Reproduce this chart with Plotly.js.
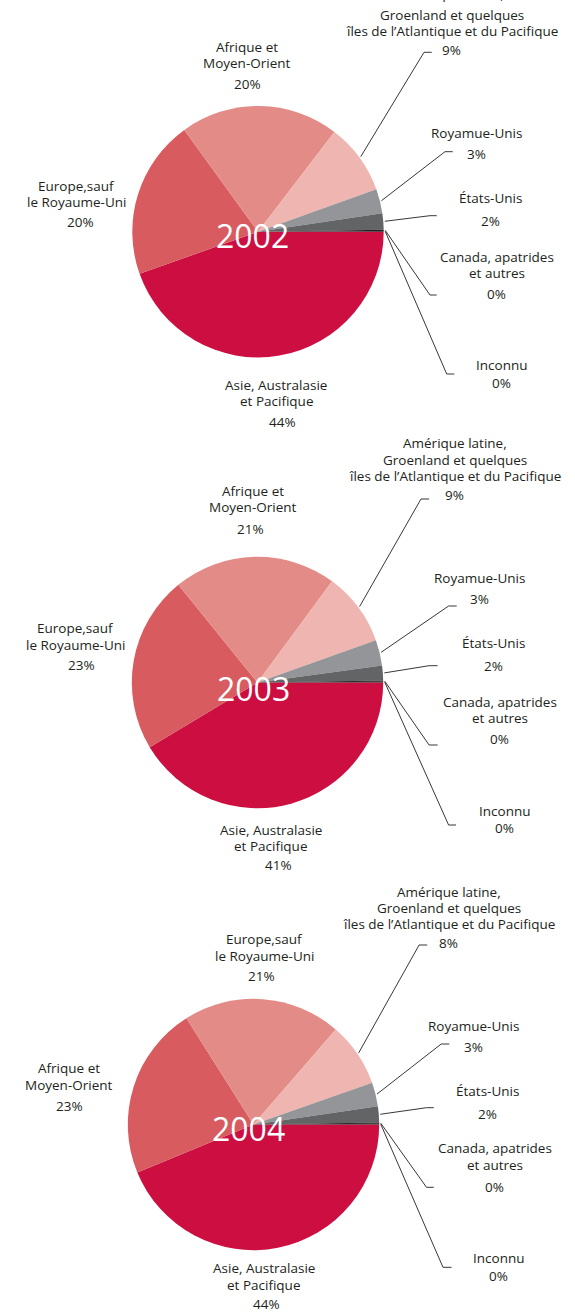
<!DOCTYPE html>
<html>
<head>
<meta charset="utf-8">
<script src="https://cdn.plot.ly/plotly-3.0.1.min.js"></script>
<style>
html,body{margin:0;padding:0;background:#ffffff;}
#chart{width:575px;height:1312px;}
</style>
</head>
<body>
<div id="chart"></div>
<script>
// ---------------- DATA ----------------
const categories = [
  "Asie, Australasie\net Pacifique",
  "Europe,sauf\nle Royaume-Uni",
  "Afrique et\nMoyen-Orient",
  "Amérique latine,\nGroenland et quelques\nîles de l’Atlantique et du Pacifique",
  "Royamue-Unis",
  "États-Unis",
  "Canada, apatrides\net autres",
  "Inconnu"
];
const years = ["2002", "2003", "2004"];
const values2002 = [44.4, 20.4, 20.3, 9.1, 3.1, 2.1, 0.15, 0.1];
const values2003 = [41.3, 22.7, 20.9, 9.4, 3.3, 1.9, 0.15, 0.1];
const values2004 = [44.4, 20.6, 22.6, 8.4, 3.1, 2.1, 0.15, 0.1];
const seriesValues = [values2002, values2003, values2004];

// ---------------- STYLE / LAYOUT ----------------
const W = 575, H = 1312;
const rankColors = ["#cc0e40", "#d75b5f", "#e38b86", "#efb5b0", "#939598", "#636466", "#231f20", "#231f20"];
const FONT = "'Open Sans', 'Noto Sans', sans-serif";
const TEXT_COLOR = "#231f20";
const FS = 13.5;
const LINE = 16.4;

// label placement per chart, indexed by slice rank (largest first, clockwise from 3 o'clock)
const charts = [
  { cx: 258, cy: 231.7, r: 125.7, yx: -5.5, yy: 3.6,
    pos: [
      { x: 276, y: 385, px: 282.3, py: 421.7 },
      { x: 76, y: 186, px: 80.5, py: 221.7 },
      { x: 247.3, y: 46.7, px: 247.3, py: 84 },
      { x: 451.7, y: -1.4, y0: -6, px: 451.7, py: 50, ex: 424, ey: 52.3, tx: 431.7 },
      { x: 476, y: 133.3, px: 476, py: 154, ex: 445, ey: 151.7, tx: 452.7 },
      { x: 490.7, y: 198.3, px: 490.7, py: 221, ex: 430, ey: 215.7, tx: 436.7 },
      { x: 496.7, y: 256.7, px: 496.7, py: 294, ex: 430, ey: 295, tx: 436.7 },
      { x: 501, y: 365, px: 501, py: 383.3, ex: 446.7, ey: 374, tx: 454.3 }
    ] },
  { cx: 257.5, cy: 682.5, r: 125.7, yx: -3.8, yy: 5.5,
    pos: [
      { x: 270.7, y: 830, px: 278.8, py: 865 },
      { x: 75.5, y: 628.3, px: 81.8, py: 665 },
      { x: 253.4, y: 490.7, px: 250.5, py: 529 },
      { x: 454.9, y: 443.3, px: 454.9, py: 495, ex: 421, ey: 499, tx: 429.1 },
      { x: 479.6, y: 578.3, px: 479.6, py: 599.3, ex: 448.6, ey: 606, tx: 456.7 },
      { x: 493.6, y: 643.3, px: 493.6, py: 666, ex: 429.1, ey: 665.7, tx: 437.6 },
      { x: 499.5, y: 701.7, px: 499.5, py: 739.3, ex: 429.1, ey: 745, tx: 437.6 },
      { x: 504, y: 810.7, px: 504, py: 828.3, ex: 448.6, ey: 825, tx: 456 }
    ] },
  { cx: 253.5, cy: 1124.5, r: 125.7, yx: -5.2, yy: 3.5,
    pos: [
      { x: 263.8, y: 1268.3, px: 266.5, py: 1303.5 },
      { x: 69.1, y: 1068.3, px: 69.1, py: 1106 },
      { x: 264, y: 939.3, px: 261, py: 976 },
      { x: 448.5, y: 891.7, px: 448.5, py: 942.7, ex: 419.1, ey: 945, tx: 427.2 },
      { x: 473.5, y: 1026, px: 473.5, py: 1047.3, ex: 441.2, ey: 1044, tx: 449.3 },
      { x: 487.9, y: 1091, px: 487.9, py: 1114.3, ex: 426.5, ey: 1107.7, tx: 433.8 },
      { x: 494.5, y: 1148.3, px: 494.5, py: 1186.7, ex: 426.5, ey: 1187.3, tx: 433.8 },
      { x: 498.2, y: 1258.3, px: 498.2, py: 1276, ex: 443, ey: 1267.3, tx: 451.5 }
    ] }
];

const X = px => px / W;
const Y = py => 1 - py / H;

const traces = [];
const annotations = [];
const shapes = [];

years.forEach((yr, ci) => {
  const c = charts[ci];
  const vals = seriesValues[ci];
  // sort descending (stable), slices run clockwise from 3 o'clock
  const order = vals.map((v, i) => i).sort((a, b) => vals[b] - vals[a] || a - b);
  const sLabels = order.map(i => categories[i].replace(/\n/g, " "));
  const sValues = order.map(i => vals[i]);
  const total = sValues.reduce((a, b) => a + b, 0);

  traces.push({
    type: "pie",
    labels: sLabels,
    values: sValues,
    sort: false,
    direction: "clockwise",
    rotation: 90,
    textinfo: "none",
    hoverinfo: "label+percent",
    marker: { colors: rankColors, line: { width: 0 } },
    showlegend: false,
    domain: { x: [X(c.cx - c.r), X(c.cx + c.r)], y: [Y(c.cy + c.r), Y(c.cy - c.r)] }
  });

  // year in the centre
  annotations.push({
    xref: "paper", yref: "paper", x: X(c.cx + c.yx), y: Y(c.cy + c.yy),
    text: yr, showarrow: false, xanchor: "center", yanchor: "middle",
    font: { family: FONT, size: 32, color: "#ffffff" }
  });

  let cum = 0;
  order.forEach((catIdx, rank) => {
    const v = vals[catIdx];
    const mid = (cum + v / 2) / total * 2 * Math.PI;
    cum += v;
    const p = c.pos[rank];
    const lines = categories[catIdx].split("\n");
    lines.forEach((ln, li) => {
      const ly = (li === 0 && p.y0 !== undefined) ? p.y0 : p.y + li * LINE;
      annotations.push({
        xref: "paper", yref: "paper", x: X(p.x), y: Y(ly),
        text: ln, showarrow: false, xanchor: "center", yanchor: "middle",
        font: { family: FONT, size: FS, color: TEXT_COLOR }
      });
    });
    annotations.push({
      xref: "paper", yref: "paper", x: X(p.px), y: Y(p.py),
      text: Math.round(v) + "%", showarrow: false, xanchor: "center", yanchor: "middle",
      font: { family: FONT, size: FS, color: TEXT_COLOR }
    });
    if (p.ex !== undefined) {
      const R = c.r * 1.012;
      const sx = c.cx + R * Math.cos(mid);
      const sy = c.cy + R * Math.sin(mid);
      shapes.push({
        type: "path", xref: "paper", yref: "paper",
        path: "M " + X(sx) + "," + Y(sy) + " L " + X(p.ex) + "," + Y(p.ey) + " L " + X(p.tx) + "," + Y(p.ey),
        line: { color: "#231f20", width: 0.9 }
      });
    }
  });
});

const layout = {
  width: W, height: H,
  margin: { l: 0, r: 0, t: 0, b: 0, pad: 0 },
  paper_bgcolor: "#ffffff",
  plot_bgcolor: "#ffffff",
  showlegend: false,
  annotations: annotations,
  shapes: shapes,
  font: { family: FONT, color: TEXT_COLOR }
};

Plotly.newPlot("chart", traces, layout, { staticPlot: true, displayModeBar: false });
</script>
</body>
</html>
